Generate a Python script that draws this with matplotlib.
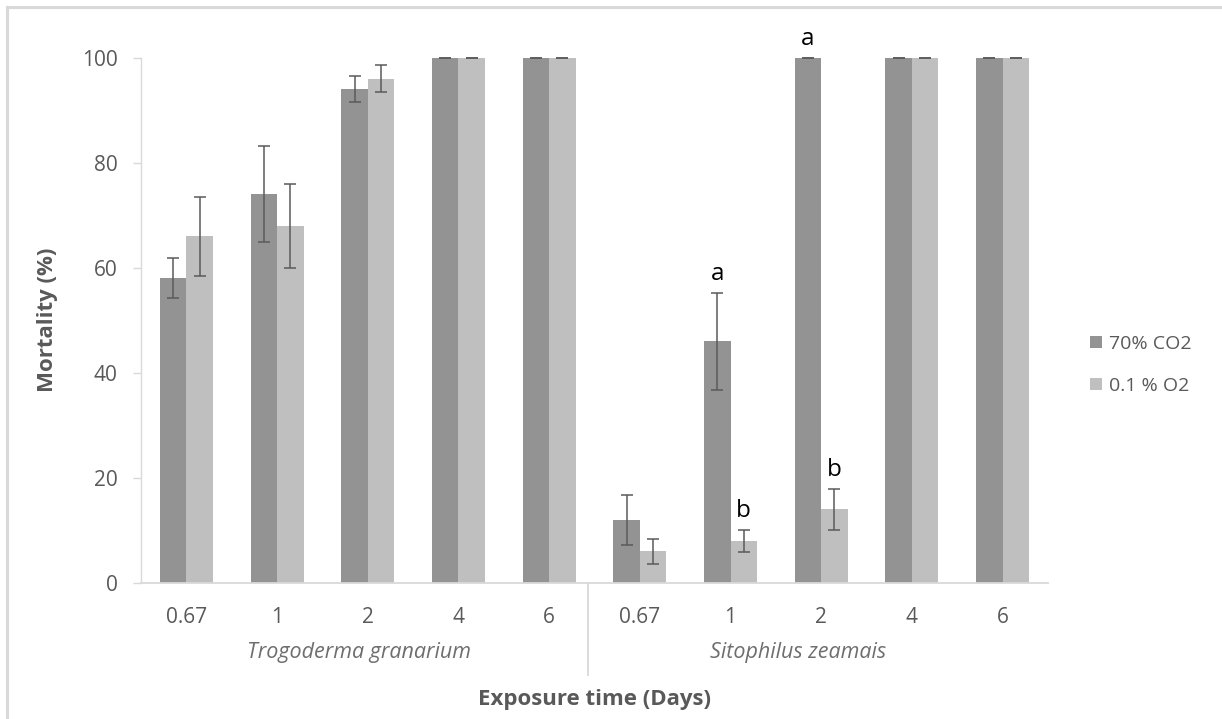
import matplotlib
matplotlib.use("Agg")
import matplotlib.pyplot as plt
import matplotlib.transforms as mtransforms
from matplotlib.lines import Line2D
import numpy as np

plt.rcParams['font.family'] = ['Open Sans', 'DejaVu Sans']

# ---- data ----
exposure_labels = ["0.67", "1", "2", "4", "6", "0.67", "1", "2", "4", "6"]
species = ["Trogoderma granarium", "Sitophilus zeamais"]
series_names = ["70% CO2", "0.1 % O2"]
co2 = [58, 74, 94, 100, 100, 12, 46, 100, 100, 100]
co2_err = [3.8, 9.2, 2.4, 0, 0, 4.8, 9.2, 0, 0, 0]
o2 = [66, 68, 96, 100, 100, 6, 8, 14, 100, 100]
o2_err = [7.5, 8.0, 2.5, 0, 0, 2.4, 2.1, 3.9, 0, 0]
co2_letters = ["", "", "", "", "", "", "a", "a", "", ""]
o2_letters = ["", "", "", "", "", "", "b", "b", "", ""]
yticks = [0, 20, 40, 60, 80, 100]

# ---- style ----
DARK = "#939393"
LIGHT = "#bfbfbf"
TEXT = "#595959"
AXIS = "#d9d9d9"
ERR = "#5a5a5a"

W, H = 1222, 719
fig = plt.figure(figsize=(W / 100, H / 100), dpi=100)
ax = fig.add_axes([141 / W, 1 - 583 / H, (1048 - 141) / W, (583 - 57.5) / H])

x = np.arange(len(exposure_labels))
bw = 0.292
b1 = ax.bar(x - bw / 2, co2, bw, color=DARK, label=series_names[0], zorder=2)
b2 = ax.bar(x + bw / 2, o2, bw, color=LIGHT, label=series_names[1], zorder=2)
ax.errorbar(x - bw / 2, co2, yerr=co2_err, fmt="none", ecolor=ERR,
            elinewidth=1.1, capsize=4.6, capthick=1.1, zorder=3, clip_on=False)
ax.errorbar(x + bw / 2, o2, yerr=o2_err, fmt="none", ecolor=ERR,
            elinewidth=1.1, capsize=4.6, capthick=1.1, zorder=3, clip_on=False)

# significance letters
for xi, v, e, t in zip(x - bw / 2, co2, co2_err, co2_letters):
    if t:
        ax.text(xi, v + e + 2.4, t, ha="center", va="baseline", fontsize=17.5,
                color="black", clip_on=False)
for xi, v, e, t in zip(x + bw / 2, o2, o2_err, o2_letters):
    if t:
        ax.text(xi, v + e + 2.4, t, ha="center", va="baseline", fontsize=17.5,
                color="black", clip_on=False)

ax.set_xlim(-0.5, len(exposure_labels) - 0.5)
ax.set_ylim(0, 100)
ax.set_yticks(yticks)
ax.set_xticks(x)
ax.set_xticklabels(exposure_labels)
ax.tick_params(axis="x", length=0, pad=17, labelsize=15, labelcolor=TEXT)
ax.tick_params(axis="y", length=5.8, width=1, color=AXIS, pad=11,
               labelsize=15, labelcolor=TEXT)

for s in ["top", "right"]:
    ax.spines[s].set_visible(False)
ax.spines["left"].set_color(AXIS)
ax.spines["bottom"].set_color(AXIS)
ax.spines["left"].set_linewidth(1)
ax.spines["bottom"].set_linewidth(1.3)

# group separator and species labels
trans = mtransforms.blended_transform_factory(ax.transData, ax.transAxes)
sep_x = 4.43
ax.add_line(Line2D([sep_x, sep_x], [0, -0.175], transform=trans, color=AXIS,
                   lw=1.3, clip_on=False))
species_x = [1.90, 6.74]
for sx, name in zip(species_x, species):
    ax.text(sx, -0.133, name, transform=trans, ha="center", va="center",
            fontsize=15.5, style="italic", color="#6e6e6e")

ax.set_ylabel("Mortality (%)", fontsize=16, fontweight="bold", color=TEXT)
ax.yaxis.set_label_coords((58 - 141) / (1048 - 141), (583 - 320) / (583 - 57.5))
fig.text(595 / W, 1 - 700 / H, "Exposure time (Days)", ha="center", va="center",
         fontsize=16, fontweight="bold", color=TEXT)

leg = fig.legend(handles=[b1, b2], loc="center left",
                 bbox_to_anchor=(1090 / W, 1 - 365 / H), frameon=False,
                 handlelength=0.6, handleheight=0.6, handletextpad=0.4,
                 labelspacing=1.25, borderpad=0, borderaxespad=0,
                 fontsize=14)
for t in leg.get_texts():
    t.set_color(TEXT)

# outer chart border (top and left visible)
fig.add_artist(Line2D([7 / W, 1], [1 - 7 / H, 1 - 7 / H], color=AXIS, lw=2.2,
                      transform=fig.transFigure))
fig.add_artist(Line2D([7 / W, 7 / W], [0, 1 - 7 / H], color=AXIS, lw=2.2,
                      transform=fig.transFigure))

fig.savefig("out.png", dpi=100)
